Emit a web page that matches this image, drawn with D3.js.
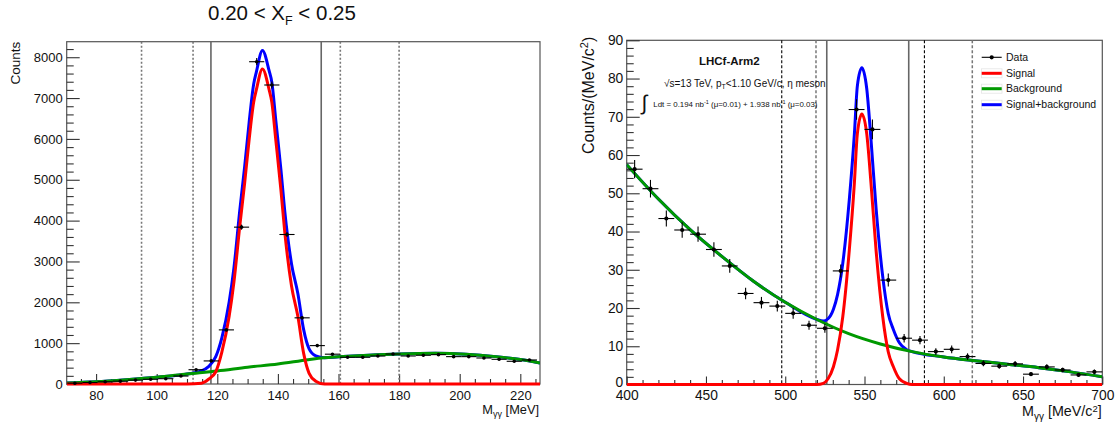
<!DOCTYPE html>
<html><head><meta charset="utf-8">
<script src="https://cdn.jsdelivr.net/npm/d3@7"></script>
<style>
body{margin:0;background:#fff}
svg{display:block}
text{font-family:"Liberation Sans",Arial,Helvetica,sans-serif;fill:#111}
</style>
</head><body>
<svg id="c" width="1117" height="423"></svg>
<script>
// ---------------- LEFT PANEL DATA (pi0, 0.20 < XF < 0.25) ----------------
const leftBins   = [73,78,83,88,93,98,103,108,113,118,123,128,133,138,143,148,153,158,163,168,173,178,183,188,193,198,203,208,213,218,223];
const leftCounts = [20,35,55,70,95,115,130,195,350,565,1325,3840,7890,7320,3660,1620,940,730,654,654,686,734,686,703,719,670,670,637,605,556,588];
const leftErr    = [5,6,7,8,10,11,11,14,19,24,36,62,89,86,60,40,31,27,26,26,26,27,26,27,27,26,26,25,25,24,24];
const leftBinHalf = 2.5;

const leftBgX  = [70.3,80,90,100,110,120,130,140,150,155,160,170,180,192,202,212,220,226.5];
const leftBgY  = [25,55,105,165,245,320,410,490,595,640,665,705,735,752,730,670,600,515];
const leftSigX = [70.3,110,114.8,117,119.5,121.5,123.9,125.5,127.4,129,130.5,132,132.9,134.9,137.1,138,139.3,141,142.3,144.5,146.6,148.5,150.3,152.5,155.4,160,226.5];
const leftSigY = [0,0,20,110,300,780,1650,2500,3856,4900,5980,6900,7206,7713,7206,6900,5980,4750,3693,2400,1650,750,262,70,0,0,0];
const leftTotX = [70.3,80,90,100,110,114.8,117,119.5,121.5,123.9,125.5,127.4,129,130.5,132,132.9,134.9,137.1,138,139.3,141,142.3,144.5,146.6,148.5,150.3,152.5,155.4,160,170,180,192,202,212,220,226.5];
const leftTotY = [25,55,105,165,245,320,420,670,1130,2000,2850,4240,5300,6400,7340,7640,8165,7670,7390,6460,5250,4210,2940,2210,1330,860,690,645,665,705,735,752,730,670,600,515];

const leftDotted = [95,112,160.6,180];
const leftSolid  = [117.9,154.3];
const leftXMajor = [80,100,120,140,160,180,200,220];
const leftYMajor = [0,1000,2000,3000,4000,5000,6000,7000,8000];

// ---------------- RIGHT PANEL DATA (eta meson) ----------------
const rightBins = [405,415,425,435,445,455,465,475,485,495,505,515,525,535,545,555,565,575,585,595,605,615,625,635,645,655,665,675,685,695];
const rightVals = [56.3,51.2,43.4,40.4,39.3,35.3,31.0,23.8,21.4,20.5,18.6,15.5,14.7,29.7,71.9,66.7,27.3,12.1,11.6,8.6,9.2,7.3,5.5,4.8,5.4,2.7,4.6,3.8,2.5,3.3];
const rightErr  = [2.4,2.3,2.1,2.0,2.0,1.9,1.8,1.5,1.5,1.4,1.4,1.2,1.2,1.7,2.7,2.6,1.7,1.1,1.1,0.9,1.0,0.85,0.75,0.7,0.75,0.5,0.7,0.6,0.5,0.6];
const rightBinHalf = 5;

const rightBgX  = [400,420,440,460,480,500,520,540,560,580,600,620,640,660,680,700];
const rightBgY  = [57.5,48.5,40.5,33.5,27.0,21.5,17.0,13.3,10.6,8.6,7.2,6.2,5.3,4.4,3.3,2.0];
const rightSigX = [400,520,524,527,530.4,533,536.3,540.4,543.6,545.5,548.3,551.4,554.1,557.3,561.5,565,568.2,572,576.6,580,700];
const rightSigY = [0,0,0.3,1.5,4.65,9,17.7,35.1,52.6,65.6,70.7,65.6,52.6,35.1,17.7,8.5,4.65,1.5,0.3,0,0];
const rightTotX = [400,420,440,460,480,500,520,524,527,530.4,533,536.3,540.4,543.6,545.5,548.3,551.4,554.1,557.3,561.5,565,568.2,572,576.6,580,600,620,640,660,680,700];
const rightTotY = [57.5,48.5,40.5,33.5,27.0,21.5,17.0,16.6,17.2,19.7,23.5,31.7,48.3,65.4,78.1,82.8,77.4,64.0,46.1,28.2,18.5,14.4,10.9,9.1,8.6,7.2,6.2,5.3,4.4,3.3,2.0];

const rightDashBlack = [497.8,587.8];
const rightDashGray  = [519.4,618];
const rightSolid     = [526.2,577.9];
const rightXMajor = [400,450,500,550,600,650,700];
const rightYMajor = [0,10,20,30,40,50,60,70,80,90];

const legendLabels = ["Data","Signal","Background","Signal+background"];
const colors = {sig:"#ff0000", bg:"#009900", tot:"#0000ff"};

// ---------------- DRAWING ----------------
const svg = d3.select("#c");

const LB = {x0:66.7, x1:540, y0:41.7, y1:384};
const RB = {x0:626.7, x1:1102.3, y0:40.3, y1:384.5};
const xL = d3.scaleLinear().domain([70.3,226.5]).range([LB.x0,LB.x1]);
const yL = d3.scaleLinear().domain([0,8380]).range([LB.y1,LB.y0]);
const xR = d3.scaleLinear().domain([400,700]).range([RB.x0,RB.x1]);
const yR = d3.scaleLinear().domain([0,90]).range([RB.y1,RB.y0]);

function range(a,b,s){const r=[];for(let v=a;v<=b+1e-9;v+=s)r.push(+v.toFixed(6));return r;}

function axes(box,x,y,o){
  const g = svg.append("g");
  g.append("rect").attr("x",box.x0).attr("y",box.y0).attr("width",box.x1-box.x0).attr("height",box.y1-box.y0)
    .attr("fill","none").attr("stroke","#555").attr("stroke-width",1.2);
  const minorX = o.xMinor.filter(v=>!o.xMajor.includes(v));
  const minorY = o.yMinor.filter(v=>!o.yMajor.includes(v));
  g.append("g").attr("transform",`translate(0,${box.y1})`)
    .call(d3.axisBottom(x).tickValues(o.xMajor).tickSize(-o.xMajLen).tickPadding(o.xPad).tickFormat(d3.format("d")));
  g.append("g").attr("transform",`translate(0,${box.y1})`)
    .call(d3.axisBottom(x).tickValues(minorX).tickSize(-o.xMinLen).tickFormat(""));
  const gy = g.append("g").attr("transform",`translate(${box.x0},0)`)
    .call(d3.axisLeft(y).tickValues(o.yMajor).tickSize(-o.yMajLen).tickPadding(o.yPad).tickFormat(d3.format("d")));
  g.append("g").attr("transform",`translate(${box.x0},0)`)
    .call(d3.axisLeft(y).tickValues(minorY).tickSize(-o.yMinLen).tickFormat(""));
  g.selectAll(".domain").remove();
  g.selectAll(".tick line").attr("stroke","#333").attr("stroke-width",1.1);
  g.selectAll(".tick text").attr("font-size",o.font).attr("fill","#111")
    .style("font-family",'"Liberation Sans",Arial,Helvetica,sans-serif');
  if(o.raiseZero) gy.selectAll(".tick text").filter(d=>d===0).attr("dy","0.12em");
}

function vlines(box,x,vals,color,width,dash){
  svg.append("g").selectAll("line").data(vals).join("line")
    .attr("x1",d=>x(d)).attr("x2",d=>x(d)).attr("y1",box.y0).attr("y2",box.y1)
    .attr("stroke",color).attr("stroke-width",width).attr("stroke-dasharray",dash||null);
}

function curve(id,box,x,y,xs,ys,color){
  const pts = xs.map((v,i)=>[v,ys[i]]);
  const line = d3.line().x(d=>x(d[0])).y(d=>y(d[1])).curve(d3.curveMonotoneX);
  svg.append("path").attr("d",line(pts)).attr("fill","none").attr("stroke",color)
    .attr("stroke-width",3).attr("stroke-linejoin","round").attr("clip-path",`url(#${id})`);
}

function clip(id,box){
  svg.append("clipPath").attr("id",id).append("rect")
    .attr("x",box.x0).attr("y",box.y0).attr("width",box.x1-box.x0).attr("height",box.y1-box.y0+2);
}

function points(x,y,bins,vals,errs,half,r){
  const g = svg.append("g").attr("stroke","#000").attr("stroke-width",1.1);
  bins.forEach((b,i)=>{
    g.append("line").attr("x1",x(b-half)).attr("x2",x(b+half)).attr("y1",y(vals[i])).attr("y2",y(vals[i]));
    g.append("line").attr("x1",x(b)).attr("x2",x(b)).attr("y1",y(vals[i]-errs[i])).attr("y2",y(vals[i]+errs[i]));
    g.append("circle").attr("cx",x(b)).attr("cy",y(vals[i])).attr("r",r).attr("fill","#000").attr("stroke","none");
  });
}

// ----- Left panel -----
clip("clipL",LB);
axes(LB,xL,yL,{xMajor:leftXMajor,xMinor:range(75,225,5),yMajor:leftYMajor,yMinor:range(0,8200,200),
  xMajLen:10,xMinLen:5,yMajLen:13,yMinLen:7,xPad:6.5,yPad:4,font:13});
vlines(LB,xL,leftDotted,"#777",1.6,"2,2");
vlines(LB,xL,leftSolid,"#666",1.6);
curve("clipL",LB,xL,yL,leftTotX,leftTotY,colors.tot);
curve("clipL",LB,xL,yL,leftBgX,leftBgY,colors.bg);
curve("clipL",LB,xL,yL,leftSigX,leftSigY,colors.sig);
points(xL,yL,leftBins,leftCounts,leftErr,leftBinHalf,1.8);

// title
const t = svg.append("text").attr("x",282).attr("y",20).attr("text-anchor","middle").attr("font-size",20.5);
t.append("tspan").text("0.20 < X");
t.append("tspan").attr("font-size",12.5).attr("dy",5).text("F");
t.append("tspan").attr("dy",-5).text(" < 0.25");

// axis titles left
svg.append("text").attr("transform","translate(20,41.7) rotate(-90)").attr("text-anchor","end")
  .attr("font-size",13.5).text("Counts");
const xtL = svg.append("text").attr("x",539).attr("y",413.5).attr("text-anchor","end").attr("font-size",12.8);
xtL.append("tspan").text("M");
xtL.append("tspan").attr("font-size",9).attr("dy",3).text("γγ");
xtL.append("tspan").attr("dy",-3).text(" [MeV]");

// ----- Right panel -----
clip("clipR",RB);
axes(RB,xR,yR,{xMajor:rightXMajor,xMinor:range(400,700,10),yMajor:rightYMajor,yMinor:range(0,90,2),
  xMajLen:8,xMinLen:4.5,yMajLen:13,yMinLen:7,xPad:6.2,yPad:3.4,font:13.8,raiseZero:true});
vlines(RB,xR,rightDashBlack,"#000",1.1,"3,2");
vlines(RB,xR,rightDashGray,"#777",1.5,"3,2");
vlines(RB,xR,rightSolid,"#666",1.6);
curve("clipR",RB,xR,yR,rightTotX,rightTotY,colors.tot);
curve("clipR",RB,xR,yR,rightBgX,rightBgY,colors.bg);
curve("clipR",RB,xR,yR,rightSigX,rightSigY,colors.sig);
points(xR,yR,rightBins,rightVals,rightErr,rightBinHalf,2.1);

// axis titles right
const ytR = svg.append("text").attr("transform","translate(594,36.7) rotate(-90)").attr("text-anchor","end").attr("font-size",16);
ytR.append("tspan").text("Counts/(MeV/c");
ytR.append("tspan").attr("font-size",11).attr("dy",-6).text("2");
ytR.append("tspan").attr("dy",6).text(")");
const xtR = svg.append("text").attr("x",1101.7).attr("y",416).attr("text-anchor","end").attr("font-size",14.3);
xtR.append("tspan").text("M");
xtR.append("tspan").attr("font-size",10).attr("dy",3.5).text("γγ");
xtR.append("tspan").attr("dy",-3.5).text(" [MeV/c");
xtR.append("tspan").attr("font-size",9.5).attr("dy",-4.5).text("2");
xtR.append("tspan").attr("dy",4.5).text("]");

// annotations
svg.append("text").attr("x",729.3).attr("y",65).attr("text-anchor","middle").attr("font-size",11.5)
  .attr("font-weight","bold").text("LHCf-Arm2");
const a1 = svg.append("text").attr("x",664).attr("y",86.5).attr("font-size",10);
a1.append("tspan").text("√s=13 TeV, p");
a1.append("tspan").attr("font-size",7).attr("dy",2).text("T");
a1.append("tspan").attr("dy",-2).text("<1.10 GeV/c, η meson");
svg.append("text").attr("x",641.5).attr("y",110).attr("font-size",21).text("∫");
const a2 = svg.append("text").attr("x",653.3).attr("y",106.7).attr("font-size",7.9);
a2.append("tspan").text("Ldt = 0.194 nb");
a2.append("tspan").attr("font-size",5.5).attr("dy",-3).text("-1");
a2.append("tspan").attr("dy",3).text(" (μ=0.01) + 1.938 nb");
a2.append("tspan").attr("font-size",5.5).attr("dy",-3).text("-1");
a2.append("tspan").attr("dy",3).text(" (μ=0.03)");

// legend
const legY = [57.3,73.3,88.7,104.7];
const legColors = ["#000",colors.sig,colors.bg,colors.tot];
const lg = svg.append("g");
legendLabels.forEach((lab,i)=>{
  if(i>0){
    lg.append("rect").attr("x",981.5).attr("y",legY[i]-4.5).attr("width",20.5).attr("height",9)
      .attr("fill","#fff").attr("stroke","#e4e4e4").attr("stroke-width",0.8);
  }
  lg.append("line").attr("x1",981.7).attr("x2",1001.7).attr("y1",legY[i]).attr("y2",legY[i])
    .attr("stroke",legColors[i]).attr("stroke-width",i===0?1.1:3);
  if(i===0) lg.append("circle").attr("cx",991.7).attr("cy",legY[i]).attr("r",2.1).attr("fill","#000");
  lg.append("text").attr("x",1006).attr("y",legY[i]+3.7).attr("font-size",10.5).text(lab);
});
</script>
</body></html>
